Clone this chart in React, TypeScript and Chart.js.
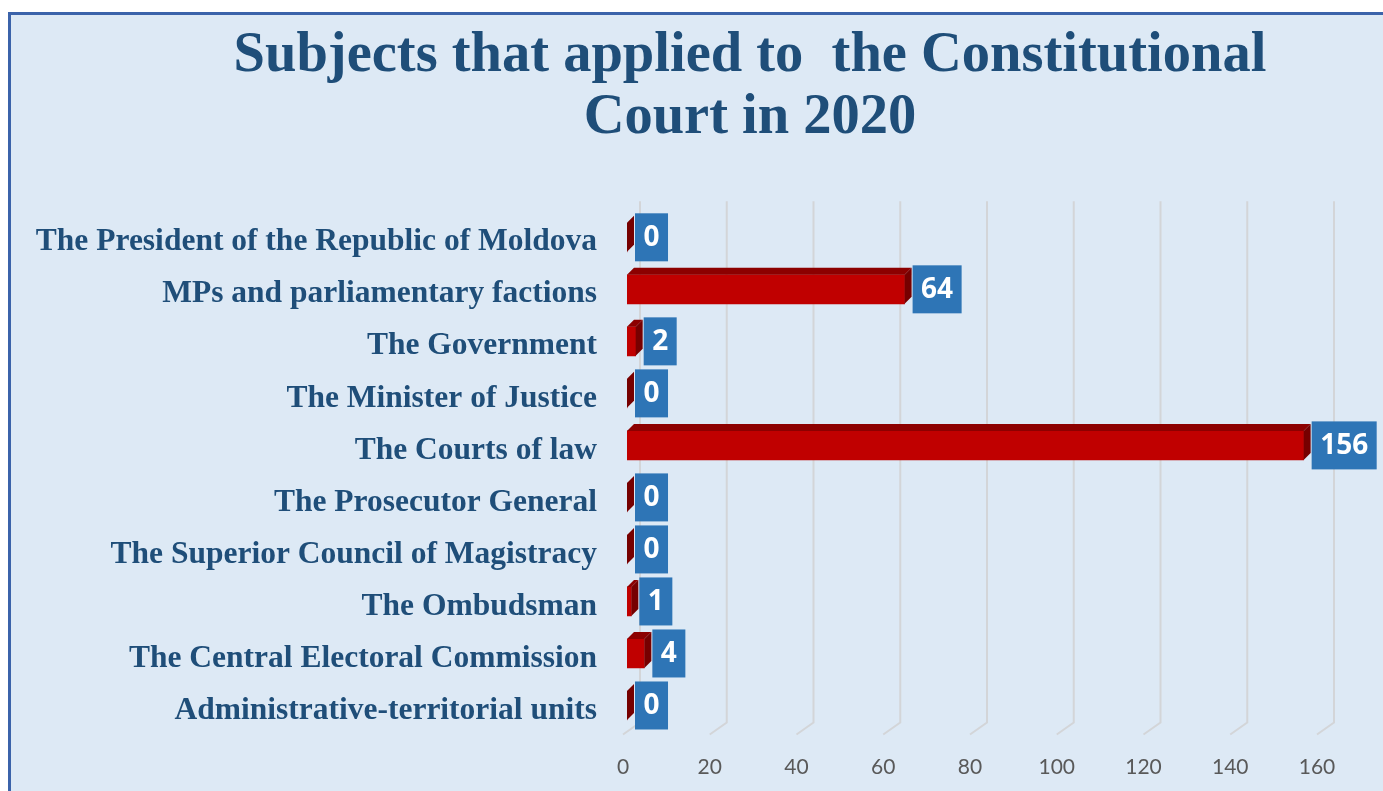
import React, { useEffect, useRef } from "react";
import { Chart, registerables } from "chart.js";

Chart.register(...registerables);

const titleLines = ["Subjects that applied to  the Constitutional", "Court in 2020"];

const categories = [
  "The President of the Republic of Moldova",
  "MPs and parliamentary factions",
  "The Government",
  "The Minister of Justice",
  "The Courts of law",
  "The Prosecutor General",
  "The Superior Council of Magistracy",
  "The Ombudsman",
  "The Central Electoral Commission",
  "Administrative-territorial units",
];

const applications = [0, 64, 2, 0, 156, 0, 0, 1, 4, 0];

const axisMin = 0;
const axisMax = 160;
const axisStep = 20;

const W = 1383;
const H = 791;
const DEPTH = 7;

const titleShift = {
  id: "titleShift",
  afterLayout(chart: any) {
    if (chart.titleBlock) {
      chart.titleBlock.left = 117;
      chart.titleBlock.right = W;
    }
  },
};

const grid3d = {
  id: "grid3d",
  beforeDatasetsDraw(chart: any) {
    const { ctx, chartArea } = chart;
    const xs = chart.scales.x;
    ctx.save();
    ctx.strokeStyle = "#d3d5d8";
    ctx.lineWidth = 2;
    xs.ticks.forEach((t: any) => {
      const px = xs.getPixelForValue(t.value);
      ctx.beginPath();
      ctx.moveTo(px + 13, chartArea.top - 10);
      ctx.lineTo(px + 13, chartArea.bottom - 9);
      ctx.lineTo(px - 4, chartArea.bottom + 3);
      ctx.stroke();
    });
    ctx.restore();
  },
};

const bar3d = {
  id: "bar3d",
  afterDatasetsDraw(chart: any) {
    const { ctx } = chart;
    const meta = chart.getDatasetMeta(0);
    ctx.save();
    meta.data.forEach((bar: any) => {
      const { x, y, base, height } = bar.getProps(["x", "y", "base", "height"], true);
      const t = y - height / 2;
      const b = y + height / 2;
      ctx.fillStyle = "#8c0000";
      ctx.beginPath();
      ctx.moveTo(base, t);
      ctx.lineTo(base + DEPTH, t - DEPTH);
      ctx.lineTo(x + DEPTH, t - DEPTH);
      ctx.lineTo(x, t);
      ctx.closePath();
      ctx.fill();
      ctx.fillStyle = "#760000";
      ctx.beginPath();
      ctx.moveTo(x, t);
      ctx.lineTo(x + DEPTH, t - DEPTH);
      ctx.lineTo(x + DEPTH, b - DEPTH);
      ctx.lineTo(x, b);
      ctx.closePath();
      ctx.fill();
    });
    ctx.restore();
  },
};

const valueBoxes = {
  id: "valueBoxes",
  afterDatasetsDraw(chart: any) {
    const { ctx } = chart;
    const meta = chart.getDatasetMeta(0);
    const data = chart.data.datasets[0].data as number[];
    ctx.save();
    ctx.font = "bold 28px 'Open Sans'";
    ctx.textAlign = "center";
    ctx.textBaseline = "middle";
    meta.data.forEach((bar: any, i: number) => {
      const { x, y } = bar.getProps(["x", "y"], true);
      const txt = String(data[i]);
      const tw = ctx.measureText(txt).width;
      const bw = tw + 17;
      const bh = 48;
      const left = x + 8;
      ctx.fillStyle = "#2e75b6";
      ctx.fillRect(left, y - bh / 2, bw, bh);
      ctx.fillStyle = "#ffffff";
      ctx.fillText(txt, left + bw / 2, y + 1);
    });
    ctx.restore();
  },
};

export default function App() {
  const ref = useRef<HTMLCanvasElement>(null);

  useEffect(() => {
    if (!ref.current) return;
    const chart = new Chart(ref.current, {
      type: "bar",
      data: {
        labels: categories,
        datasets: [
          {
            data: applications,
            backgroundColor: "#c00000",
            borderWidth: 0,
            barThickness: 29,
          },
        ],
      },
      options: {
        indexAxis: "y",
        responsive: false,
        animation: false,
        devicePixelRatio: 1,
        layout: { padding: { left: 0, right: 62, top: 0, bottom: 0 } },
        plugins: {
          legend: { display: false },
          tooltip: { enabled: false },
          title: {
            display: true,
            text: titleLines,
            color: "#1f4e79",
            font: { family: "'Liberation Serif', serif", size: 56.5, weight: "bold", lineHeight: 1.1 },
            padding: { top: 25, bottom: 62 },
          },
        },
        scales: {
          x: {
            min: axisMin,
            max: axisMax,
            grid: { display: false, drawTicks: false },
            border: { display: false },
            ticks: {
              stepSize: axisStep,
              color: "#595959",
              font: { family: "Lato, sans-serif", size: 21 },
              padding: 23,
              labelOffset: -4,
            },
            afterFit: (s: any) => {
              s.height = 59.5;
            },
          },
          y: {
            grid: { display: false, drawTicks: false },
            border: { display: false },
            ticks: {
              color: "#1f4e79",
              font: { family: "'Liberation Serif', serif", size: 31.5, weight: "bold" },
              padding: 30,
              labelOffset: 5,
            },
            afterFit: (s: any) => {
              s.width = 627;
            },
          },
        },
      },
      plugins: [titleShift, grid3d, bar3d, valueBoxes],
    });
    return () => chart.destroy();
  }, []);

  return (
    <div style={{ position: "fixed", left: 0, top: 0, width: W, height: H, overflow: "hidden" }}>
      <div
        style={{
          position: "absolute",
          left: 8,
          top: 12,
          width: W + 40,
          height: H + 40,
          background: "#dde9f5",
          borderLeft: "3px solid #3b63aa",
          borderTop: "3px solid #3b63aa",
        }}
      />
      <canvas ref={ref} width={W} height={H} style={{ position: "absolute", left: 0, top: 0 }} />
    </div>
  );
}
